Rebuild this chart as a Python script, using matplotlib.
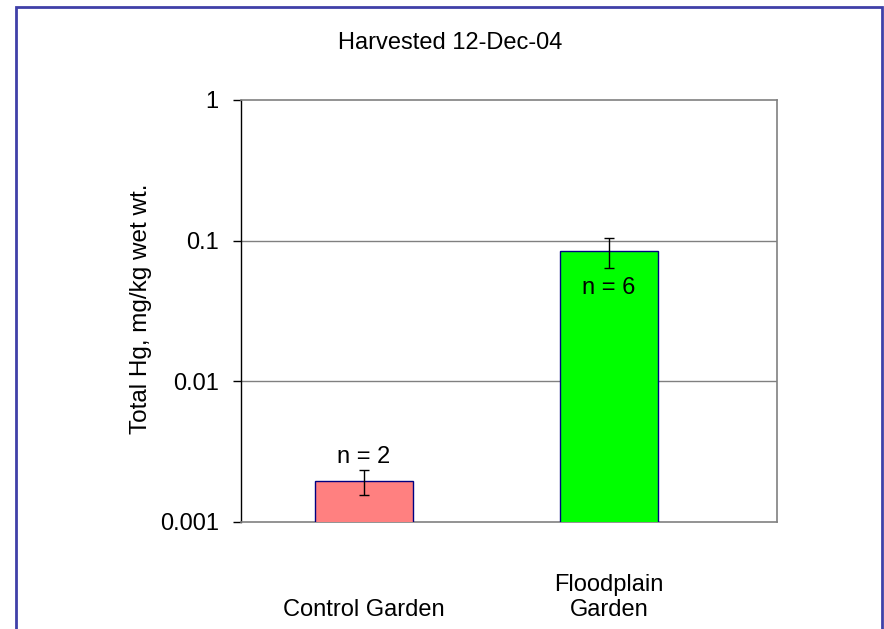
import matplotlib
matplotlib.use("Agg")
import matplotlib.pyplot as plt
import matplotlib.patches as mpatches
from matplotlib.transforms import blended_transform_factory

plt.rcParams['font.family'] = ['Liberation Sans', 'DejaVu Sans']

categories = ["Control Garden", "Floodplain\nGarden"]
values = [0.00195, 0.084]
errors = [0.0004, 0.02]
n_labels = ["n = 2", "n = 6"]
colors = ["#ff8080", "#00ff00"]
title = "Harvested 12-Dec-04"
ylabel = "Total Hg, mg/kg wet wt."
yticks = [0.001, 0.01, 0.1, 1]
ytick_labels = ["0.001", "0.01", "0.1", "1"]

FS = 17
W, H = 884, 629
fig = plt.figure(figsize=(W / 100, H / 100), dpi=100)
fig.patch.set_facecolor("white")

# outer border
border = mpatches.Rectangle((16 / W, -0.05), (882 - 16) / W, 1.05 - 7 / H,
                            transform=fig.transFigure, fill=False,
                            edgecolor="#4040a8", linewidth=2, clip_on=False)
fig.patches.append(border)

ax = fig.add_axes([241 / W, 1 - 522 / H, (777 - 241) / W, (522 - 100) / H])
ax.set_yscale("log")
ax.set_ylim(0.001, 1)
ax.set_xlim(-0.503, 1.687)

x = list(range(len(categories)))
ax.bar(x, values, width=0.40, color=colors, edgecolor="#000080", linewidth=1,
       zorder=3, bottom=1e-9)
ax.errorbar(x, values, yerr=errors, fmt="none", ecolor="black",
            elinewidth=1, capsize=3.5, capthick=1, zorder=4)

# grid lines
for t in yticks[1:-1]:
    ax.axhline(t, color="#808080", linewidth=1, zorder=1)

ax.set_yticks(yticks)
ax.set_yticklabels(ytick_labels)
ax.yaxis.set_minor_locator(matplotlib.ticker.NullLocator())
ax.tick_params(axis="y", direction="out", length=6, width=1, labelsize=FS, pad=10)
ax.set_xticks([])

for side in ["top", "right", "bottom"]:
    ax.spines[side].set_color("#808080")
    ax.spines[side].set_linewidth(1.2)
ax.spines["left"].set_color("black")
ax.spines["left"].set_linewidth(1)

# category labels
trans = blended_transform_factory(ax.transData, fig.transFigure)
for xi, cat in zip(x, categories):
    ax.text(xi, 1 - 621 / H, cat, transform=trans, ha="center", va="bottom",
            fontsize=FS, linespacing=1.2)

# n labels
ax.text(x[0], 0.0029, n_labels[0], ha="center", va="center", fontsize=FS, zorder=5)
ax.text(x[1], 0.046, n_labels[1], ha="center", va="center", fontsize=FS, zorder=5)

fig.text(450 / W, 1 - 43 / H, title, ha="center", va="center", fontsize=FS)
fig.text(141 / W, 1 - 309 / H, ylabel, ha="center", va="center",
         rotation=90, fontsize=17.5)

fig.savefig("out.png", dpi=100)
